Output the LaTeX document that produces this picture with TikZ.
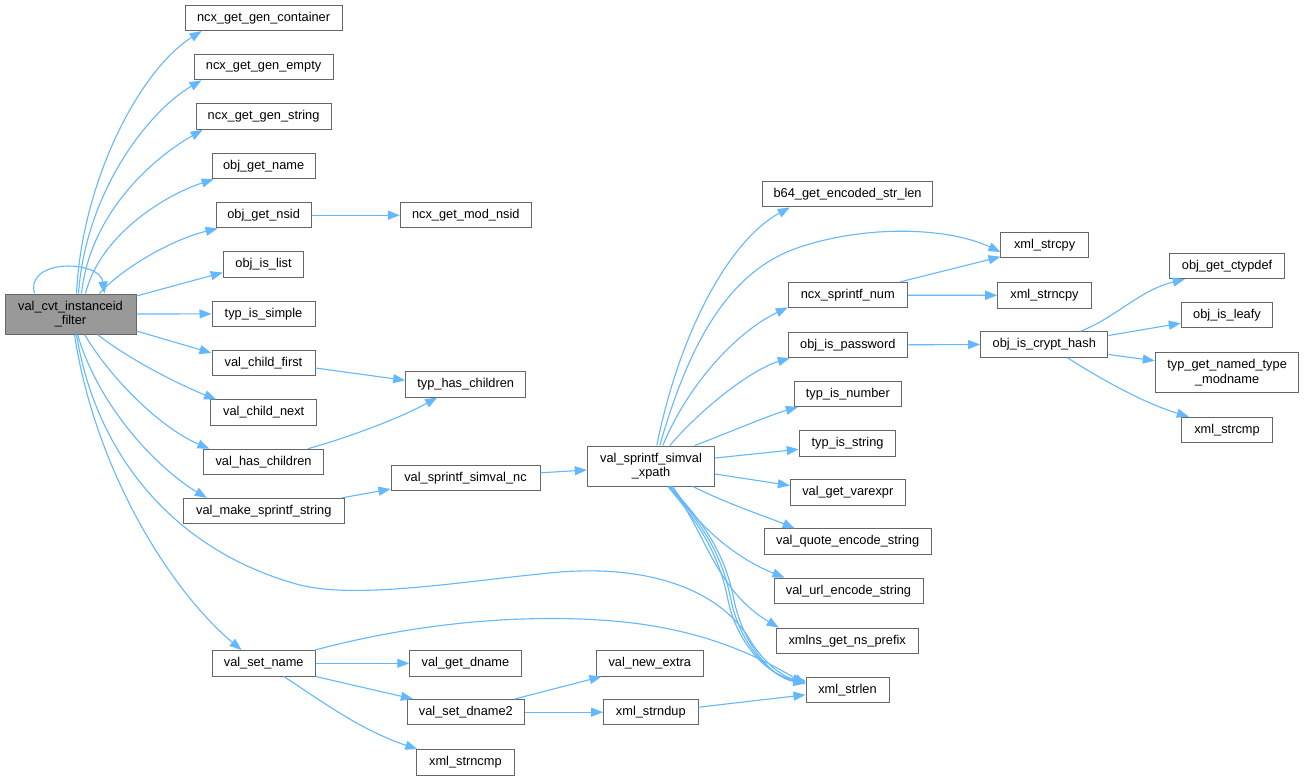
\documentclass[tikz,border=0pt]{standalone}
\usepackage{fontspec}
\setmainfont{Liberation Sans}
\usetikzlibrary{arrows.meta}
\definecolor{edgeblue}{HTML}{63B8FF}
\definecolor{boxgray}{HTML}{666666}
\definecolor{mainfill}{HTML}{999999}
\tikzset{
  fn/.style={draw=boxgray, fill=white, line width=1pt, inner sep=0pt, align=center,
    font=\fontsize{12.8}{14.5}\selectfont},
  mainfn/.style={fn, fill=mainfill},
  edge/.style={draw=edgeblue, line width=1.1pt, -{Triangle[length=12pt,width=9pt]}, edgeblue}
}
\begin{document}
\begin{tikzpicture}[x=1pt,y=-1pt]
\useasboundingbox[fill=white] (0,0) rectangle (1304,780);
% nodes (center x, center y, width, height)
\node[mainfn, minimum width=131pt, minimum height=40pt] (main) at (70.5,314) {val\_cvt\_instanceid\\\_filter};
\node[fn, minimum width=157pt, minimum height=25.5pt] (ggc) at (263.6,17.8) {ncx\_get\_gen\_container};
\node[fn, minimum width=139pt, minimum height=25.5pt] (gge) at (263.6,67.1) {ncx\_get\_gen\_empty};
\node[fn, minimum width=135pt, minimum height=25.5pt] (ggs) at (263.6,116.6) {ncx\_get\_gen\_string};
\node[fn, minimum width=103pt, minimum height=25.5pt] (ogn) at (263.6,166) {obj\_get\_name};
\node[fn, minimum width=95pt, minimum height=25.5pt] (ons) at (263.6,215.2) {obj\_get\_nsid};
\node[fn, minimum width=131pt, minimum height=25.5pt] (mns) at (465.8,215.2) {ncx\_get\_mod\_nsid};
\node[fn, minimum width=80.7pt, minimum height=25.5pt] (oil) at (263.6,264.5) {obj\_is\_list};
\node[fn, minimum width=103pt, minimum height=25.5pt] (tis) at (263.5,313.9) {typ\_is\_simple};
\node[fn, minimum width=103pt, minimum height=25.5pt] (vcf) at (263.5,363) {val\_child\_first};
\node[fn, minimum width=106pt, minimum height=25.5pt] (vcn) at (263.7,412.6) {val\_child\_next};
\node[fn, minimum width=119.3pt, minimum height=25.5pt] (vhc) at (263.6,462) {val\_has\_children};
\node[fn, minimum width=161pt, minimum height=25.5pt] (vms) at (263.8,511.1) {val\_make\_sprintf\_string};
\node[fn, minimum width=120pt, minimum height=25.5pt] (thc) at (465.7,384.3) {typ\_has\_children};
\node[fn, minimum width=149pt, minimum height=25.5pt] (vnc) at (465.5,477.8) {val\_sprintf\_simval\_nc};
\node[fn, minimum width=127.4pt, minimum height=40pt] (vxp) at (651,466) {val\_sprintf\_simval\\\_xpath};
\node[fn, minimum width=170.7pt, minimum height=25.5pt] (b64) at (847.6,194.2) {b64\_get\_encoded\_str\_len};
\node[fn, minimum width=87.3pt, minimum height=25.5pt] (xsc) at (1044.6,245) {xml\_strcpy};
\node[fn, minimum width=119pt, minimum height=25.5pt] (nsn) at (847.8,295.2) {ncx\_sprintf\_num};
\node[fn, minimum width=93.6pt, minimum height=25.5pt] (xsn) at (1044.5,295.3) {xml\_strncpy};
\node[fn, minimum width=119pt, minimum height=25.5pt] (opw) at (847.8,344.8) {obj\_is\_password};
\node[fn, minimum width=127.3pt, minimum height=25.5pt] (och) at (1044.3,344.5) {obj\_is\_crypt\_hash};
\node[fn, minimum width=115.7pt, minimum height=25.5pt] (ogc) at (1227.1,266) {obj\_get\_ctypdef};
\node[fn, minimum width=91.4pt, minimum height=25.5pt] (oly) at (1227,315.2) {obj\_is\_leafy};
\node[fn, minimum width=143.7pt, minimum height=40pt] (tgn) at (1227.1,372.7) {typ\_get\_named\_type\\\_modname};
\node[fn, minimum width=91.4pt, minimum height=25.5pt] (xcm) at (1227,430) {xml\_strcmp};
\node[fn, minimum width=107pt, minimum height=25.5pt] (tnu) at (847.8,393.8) {typ\_is\_number};
\node[fn, minimum width=96.7pt, minimum height=25.5pt] (tst) at (847.6,443.3) {typ\_is\_string};
\node[fn, minimum width=115pt, minimum height=25.5pt] (vgv) at (847.8,492.5) {val\_get\_varexpr};
\node[fn, minimum width=167pt, minimum height=25.5pt] (vqe) at (847.7,541.6) {val\_quote\_encode\_string};
\node[fn, minimum width=149pt, minimum height=25.5pt] (vue) at (848.5,590.8) {val\_url\_encode\_string};
\node[fn, minimum width=142pt, minimum height=25.5pt] (xnp) at (847.2,640.8) {xmlns\_get\_ns\_prefix};
\node[fn, minimum width=83pt, minimum height=25.5pt] (xsl) at (847.5,689.8) {xml\_strlen};
\node[fn, minimum width=103.4pt, minimum height=25.5pt] (vsn) at (263.7,663.3) {val\_set\_name};
\node[fn, minimum width=111.3pt, minimum height=25.5pt] (vgd) at (465.4,663.3) {val\_get\_dname};
\node[fn, minimum width=107.6pt, minimum height=25.5pt] (vne) at (649.8,663.3) {val\_new\_extra};
\node[fn, minimum width=117pt, minimum height=25.5pt] (vsd) at (465.9,712.2) {val\_set\_dname2};
\node[fn, minimum width=94.4pt, minimum height=25.5pt] (xnd) at (650.8,712.2) {xml\_strndup};
\node[fn, minimum width=97.2pt, minimum height=25.5pt] (xnc) at (465.4,762.3) {xml\_strncmp};

% edges from main
\draw[edge] ([xshift=72pt]main.north west) .. controls (82,180) and (140,70) .. ([xshift=17pt]ggc.south west);
\draw[edge] ([xshift=74pt]main.north west) .. controls (86,190) and (150,110) .. ([xshift=8pt]gge.south west);
\draw[edge] ([xshift=77pt]main.north west) .. controls (90,215) and (150,160) .. ([xshift=7pt]ggs.south west);
\draw[edge] ([xshift=81pt]main.north west) .. controls (100,235) and (165,195) .. ([xshift=2pt]ogn.south west);
\draw[edge] ([xshift=95pt]main.north west) .. controls (120,270) and (170,240) .. ([xshift=2pt]ons.south west);
\draw[edge] ([xshift=30pt]main.north west) .. controls (25,258) and (100,260) .. ([xshift=100pt]main.north west);
\draw[edge] ([yshift=18pt]main.east) -- ([yshift=-8pt]oil.west);
\draw[edge] (main.east) -- (tis.west);
\draw[edge] ([yshift=-17pt]main.east) -- ([yshift=10pt]vcf.west);
\draw[edge] ([xshift=93pt]main.south west) .. controls (130,360) and (180,385) .. ([xshift=6pt]vcn.north west);
\draw[edge] ([xshift=80pt]main.south west) .. controls (115,385) and (165,430) .. ([xshift=6pt]vhc.north west);
\draw[edge] ([xshift=73pt]main.south west) .. controls (100,410) and (160,470) .. ([xshift=24pt]vms.north west);
\draw[edge] ([xshift=70pt]main.south west) .. controls (95,470) and (170,590) .. ([xshift=30pt]vsn.north west);
\draw[edge] ([xshift=72pt]main.south west) .. controls (95,450) and (170,550) .. (300,585)
   .. controls (360,600) and (470,580) .. (560,572)
   .. controls (650,565) and (720,590) .. (750,640)
   .. controls (765,665) and (785,678) .. ([yshift=-4pt]xsl.north west);

% second level
\draw[edge] (ons.east) -- (mns.west);
\draw[edge] ([yshift=-5pt]vcf.east) -- ([yshift=4pt]thc.west);
\draw[edge] ([xshift=-16pt]vhc.north east) .. controls (350,437) and (400,418) .. ([xshift=32pt]thc.south west);
\draw[edge] ([xshift=-3pt]vms.north east) -- ([yshift=2pt]vnc.south west);
\draw[edge] ([yshift=5pt]vnc.east) -- ([yshift=-4pt]vxp.west);

% from xpath
\draw[edge] ([xshift=70pt]vxp.north west) .. controls (680,330) and (730,240) .. ([xshift=28pt]b64.south west);
\draw[edge] ([xshift=73pt]vxp.north west) .. controls (690,340) and (730,270) .. (800,247)
   .. controls (870,224) and (950,228) .. ([yshift=-7pt]xsc.west);
\draw[edge] ([xshift=76pt]vxp.north west) .. controls (690,380) and (740,330) .. ([yshift=1pt]nsn.south west);
\draw[edge] ([xshift=83pt]vxp.north west) .. controls (700,410) and (750,370) .. ([xshift=2pt]opw.south west);
\draw[edge] ([xshift=108pt]vxp.north west) .. controls (730,432) and (770,415) .. ([xshift=4pt]tnu.south west);
\draw[edge] ([yshift=8pt]vxp.east) -- ([yshift=-6pt]tst.west);
\draw[edge] ([yshift=-8pt]vxp.east) -- ([yshift=7pt]vgv.west);
\draw[edge] ([xshift=106pt]vxp.south west) .. controls (730,505) and (770,518) .. ([xshift=31pt]vqe.north west);
\draw[edge] ([xshift=86pt]vxp.south west) .. controls (700,530) and (740,560) .. ([xshift=11pt]vue.north west);
\draw[edge] ([xshift=84pt]vxp.south west) .. controls (705,530) and (715,590) .. ([xshift=3pt]xnp.north west);
\draw[edge] ([xshift=81pt]vxp.south west) .. controls (705,530) and (720,560) .. (728,600)
   .. controls (736,640) and (765,675) .. ([yshift=-5pt]xsl.north west);
\draw[edge] ([xshift=82pt]vxp.south west) .. controls (708,530) and (723,560) .. (731,600)
   .. controls (739,640) and (767,676) .. ([yshift=-6pt]xsl.north west);
\draw[edge] ([xshift=83pt]vxp.south west) .. controls (711,530) and (726,560) .. (734,600)
   .. controls (742,640) and (769,677) .. ([yshift=-7pt]xsl.north west);

% third level
\draw[edge] ([xshift=-8pt]nsn.north east) -- ([yshift=1.5pt]xsc.south west);
\draw[edge] (nsn.east) -- (xsn.west);
\draw[edge] (opw.east) -- (och.west);
\draw[edge] ([xshift=-28pt]och.north east) .. controls (1115,318) and (1140,290) .. ([xshift=16pt]ogc.south west);
\draw[edge] ([yshift=9pt]och.east) -- ([yshift=-8pt]oly.west);
\draw[edge] ([yshift=-10pt]och.east) -- ([yshift=12pt]tgn.west);
\draw[edge] ([xshift=-41pt]och.south east) .. controls (1110,385) and (1150,405) .. ([xshift=8pt]xcm.north west);

% val_set_name branch
\draw[edge] ([xshift=-1pt]vsn.north east) .. controls (420,622) and (520,615) .. (600,620)
   .. controls (680,625) and (740,645) .. ([yshift=-8pt]xsl.north west);
\draw[edge] (vsn.east) -- (vgd.west);
\draw[edge] (vsn.south east) -- ([xshift=6pt]vsd.north west);
\draw[edge] ([xshift=-32pt]vsn.south east) .. controls (320,700) and (360,730) .. ([xshift=1pt]xnc.north west);
\draw[edge] ([xshift=-10pt]vsd.north east) -- ([xshift=6pt]vne.south west);
\draw[edge] (vsd.east) -- (xnd.west);
\draw[edge] ([yshift=5pt]xnd.east) -- ([yshift=-5pt]xsl.west);
\end{tikzpicture}
\end{document}
